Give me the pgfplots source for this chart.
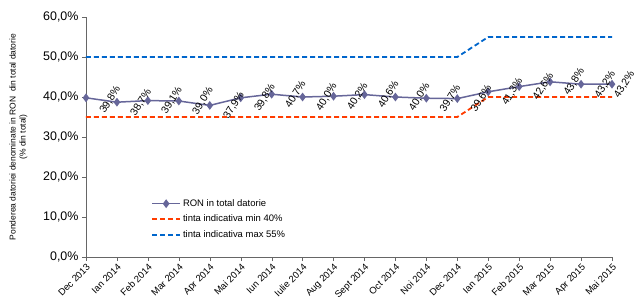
\documentclass[border=0pt]{standalone}
\usepackage{pgfplots}
\pgfplotsset{compat=1.18}
\usepackage{fontspec}
\setmainfont{Liberation Sans}
\usetikzlibrary{calc}
\definecolor{ronc}{RGB}{102,102,153}
\definecolor{minc}{RGB}{255,60,0}
\definecolor{maxc}{RGB}{0,102,204}
\begin{document}
\begin{tikzpicture}
\begin{axis}[name=ax, scale only axis, width=526bp, height=240bp,
  xmin=0, xmax=17, ymin=0, ymax=60,
  axis lines=left, axis line style={gray!80!black, -},
  tick align=outside, major tick length=4bp, tick style={gray!80!black},
  xtick={0,...,17},
  xticklabels={Dec 2013, Ian 2014, Feb 2014, Mar 2014, Apr 2014, Mai 2014, Iun 2014, Iulie 2014, Aug 2014, Sept 2014, Oct 2014, Noi 2014, Dec 2014, Ian 2015, Feb 2015, Mar 2015, Apr 2015, Mai 2015},
  x tick label style={rotate=45, anchor=north east, font=\fontsize{9.5}{10}\selectfont, inner sep=1.5pt},
  ytick={0,10,...,60},
  /pgf/number format/assume math mode=true,
  yticklabel={\pgfmathprintnumber[fixed,fixed zerofill,precision=1,use comma]{\tick}\%},
  y tick label style={font=\fontsize{12.5}{14}\selectfont},
  ylabel={Ponderea datoriei denominate in RON\ \ din total datorie\\(\% din total)},
  ylabel style={font=\fontsize{8.5}{10}\selectfont, align=center, yshift=9bp},
  clip=false,
  legend style={at={(0.118,0.257)}, anchor=north west, draw=none, fill=none, font=\fontsize{9.5}{11}\selectfont, row sep=3.2bp},
  legend cell align=left,
  legend image code/.code={\draw[mark repeat=2,mark phase=2,#1] plot coordinates {(0bp,0bp) (14bp,0bp) (28bp,0bp)};},
]
\addplot[color=ronc, line width=1.5bp, mark=diamond*, mark size=3.2bp, mark options={fill=ronc, solid}] coordinates {
(0,39.8) (1,38.7) (2,39.1) (3,39.0) (4,37.9) (5,39.8) (6,40.7) (7,40.0) (8,40.2) (9,40.6) (10,40.0) (11,39.7) (12,39.6) (13,41.3) (14,42.6) (15,43.8) (16,43.2) (17,43.2)};
\addlegendentry{RON in total datorie}
\addplot[draw=minc, line width=1.8bp, dash pattern=on 5bp off 3bp] coordinates {
(0,35) (1,35) (2,35) (3,35) (4,35) (5,35) (6,35) (7,35) (8,35) (9,35) (10,35) (11,35) (12,35) (13,40) (14,40) (15,40) (16,40) (17,40)};
\addlegendentry{tinta indicativa min 40\%}
\addplot[draw=maxc, line width=1.8bp, dash pattern=on 5bp off 3bp] coordinates {
(0,50) (1,50) (2,50) (3,50) (4,50) (5,50) (6,50) (7,50) (8,50) (9,50) (10,50) (11,50) (12,50) (13,55) (14,55) (15,55) (16,55) (17,55)};
\addlegendentry{tinta indicativa max 55\%}
\addplot[draw=none, mark=none, forget plot, point meta=explicit,
  nodes near coords={\pgfmathprintnumber[fixed,fixed zerofill,precision=1,use comma]{\pgfplotspointmeta}\%},
  every node near coord/.append style={rotate=58, anchor=center, font=\fontsize{10.5}{12}\selectfont, text=black}] table[meta=v] {
x y v
0.78 39.3 39.8
1.78 38.7 38.7
2.78 39.1 39.1
3.78 39.0 39.0
4.78 37.9 37.9
5.78 39.8 39.8
6.78 40.7 40.7
7.78 40.0 40.0
8.78 40.2 40.2
9.78 40.6 40.6
10.78 40.0 40.0
11.78 39.7 39.7
12.78 39.6 39.6
13.78 41.3 41.3
14.78 42.6 42.6
15.78 43.8 43.8
16.78 43.2 43.2
17.4 43.2 43.2
};
\end{axis}
\pgfresetboundingbox
\path[use as bounding box] ($(ax.south west)+(-86bp,-47bp)$) rectangle ($(ax.south west)+(551bp,257bp)$);
\end{tikzpicture}
\end{document}
